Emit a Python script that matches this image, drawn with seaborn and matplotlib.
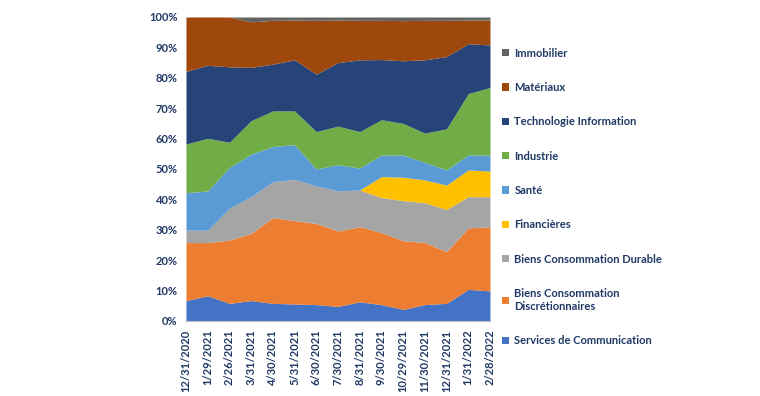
import matplotlib
matplotlib.use("Agg")
import matplotlib.pyplot as plt
import seaborn as sns

# ── Data (portfolio weights in %) ─────────────────────────────────────────────
dates = [
    "12/31/2020", "1/29/2021", "2/26/2021", "3/31/2021", "4/30/2021",
    "5/31/2021", "6/30/2021", "7/30/2021", "8/31/2021", "9/30/2021",
    "10/29/2021", "11/30/2021", "12/31/2021", "1/31/2022", "2/28/2022",
]
communication   = [6.7, 8.3, 5.8, 6.7, 5.8, 5.6, 5.4, 4.8, 6.3, 5.4, 3.8, 5.4, 5.8, 10.4, 9.9]
discretionnaire = [19.1, 17.5, 20.8, 22.1, 28.2, 27.4, 26.7, 24.8, 24.7, 23.7, 22.6, 20.4, 17.0, 20.2, 21.1]
durable         = [4.1, 4.1, 10.5, 12.1, 11.8, 13.6, 12.3, 13.2, 12.1, 11.5, 13.2, 13.1, 13.9, 10.3, 9.9]
financieres     = [0, 0, 0, 0, 0, 0, 0, 0, 0, 6.9, 7.7, 7.5, 8.0, 8.8, 8.4]
sante           = [12.3, 12.9, 13.4, 14.0, 11.6, 11.4, 5.6, 8.6, 7.2, 7.1, 7.3, 5.8, 5.0, 4.9, 5.3]
industrie       = [16.0, 17.3, 8.3, 11.0, 11.7, 11.1, 12.3, 12.7, 12.0, 11.6, 10.4, 9.6, 13.5, 20.2, 22.2]
technologie     = [23.9, 24.0, 24.8, 17.5, 15.4, 16.8, 18.9, 20.9, 23.6, 19.8, 20.6, 24.1, 23.8, 16.4, 14.0]
materiaux       = [17.9, 15.9, 16.4, 15.0, 14.4, 13.1, 17.7, 14.0, 13.0, 12.9, 13.2, 13.0, 11.9, 7.8, 8.2]
immobilier      = [0, 0, 0, 1.6, 1.1, 1.0, 1.1, 1.0, 1.1, 1.1, 1.2, 1.1, 1.1, 1.0, 1.0]

labels = [
    "Services de Communication",
    "Biens Consommation\nDiscrétionnaires",
    "Biens Consommation Durable",
    "Financières",
    "Santé",
    "Industrie",
    "Technologie Information",
    "Matériaux",
    "Immobilier",
]
colors = ["#4472C4", "#ED7D31", "#A5A5A5", "#FFC000", "#5B9BD5",
          "#70AD47", "#264478", "#9E480E", "#636363"]
series = [communication, discretionnaire, durable, financieres, sante,
          industrie, technologie, materiaux, immobilier]

NAVY = "#1F3864"

# ── Style ────────────────────────────────────────────────────────────────────
sns.set_style("white")
plt.rcParams["font.family"] = ["Lato", "DejaVu Sans"]
plt.rcParams["font.weight"] = "bold"

fig = plt.figure(figsize=(7.6, 3.96), dpi=100)
ax = fig.add_axes([0.2447, 0.1894, 0.40, 0.7677])

x = list(range(len(dates)))
ax.stackplot(x, *series, colors=colors, labels=labels, linewidth=0)

ax.set_xlim(0, len(dates) - 1)
ax.set_ylim(0, 100)
ax.set_yticks(range(0, 101, 10))
ax.set_yticklabels([f"{v}%" for v in range(0, 101, 10)], fontsize=8,
                   color=NAVY, fontweight="bold")
ax.set_xticks(x)
ax.set_xticklabels(dates, rotation=90, fontsize=8, color=NAVY, fontweight="bold")
ax.tick_params(axis="x", length=3, color="#BFBFBF", pad=3)
ax.tick_params(axis="y", length=0, pad=6)

for side in ("top", "right", "left"):
    ax.spines[side].set_visible(False)
ax.spines["bottom"].set_color("#BFBFBF")
ax.spines["bottom"].set_linewidth(0.8)

# legend, reversed so Immobilier is on top
handles, lbls = ax.get_legend_handles_labels()
leg = fig.legend(
    handles[::-1], lbls[::-1],
    loc="upper left",
    bbox_to_anchor=(0.655, 0.891),
    frameon=False,
    fontsize=8,
    handlelength=0.6,
    handleheight=0.6,
    handletextpad=0.5,
    labelspacing=2.1,
    borderaxespad=0,
)
for t in leg.get_texts():
    t.set_color(NAVY)
    t.set_fontweight("bold")

fig.savefig("out.png", dpi=100)
plt.close(fig)
